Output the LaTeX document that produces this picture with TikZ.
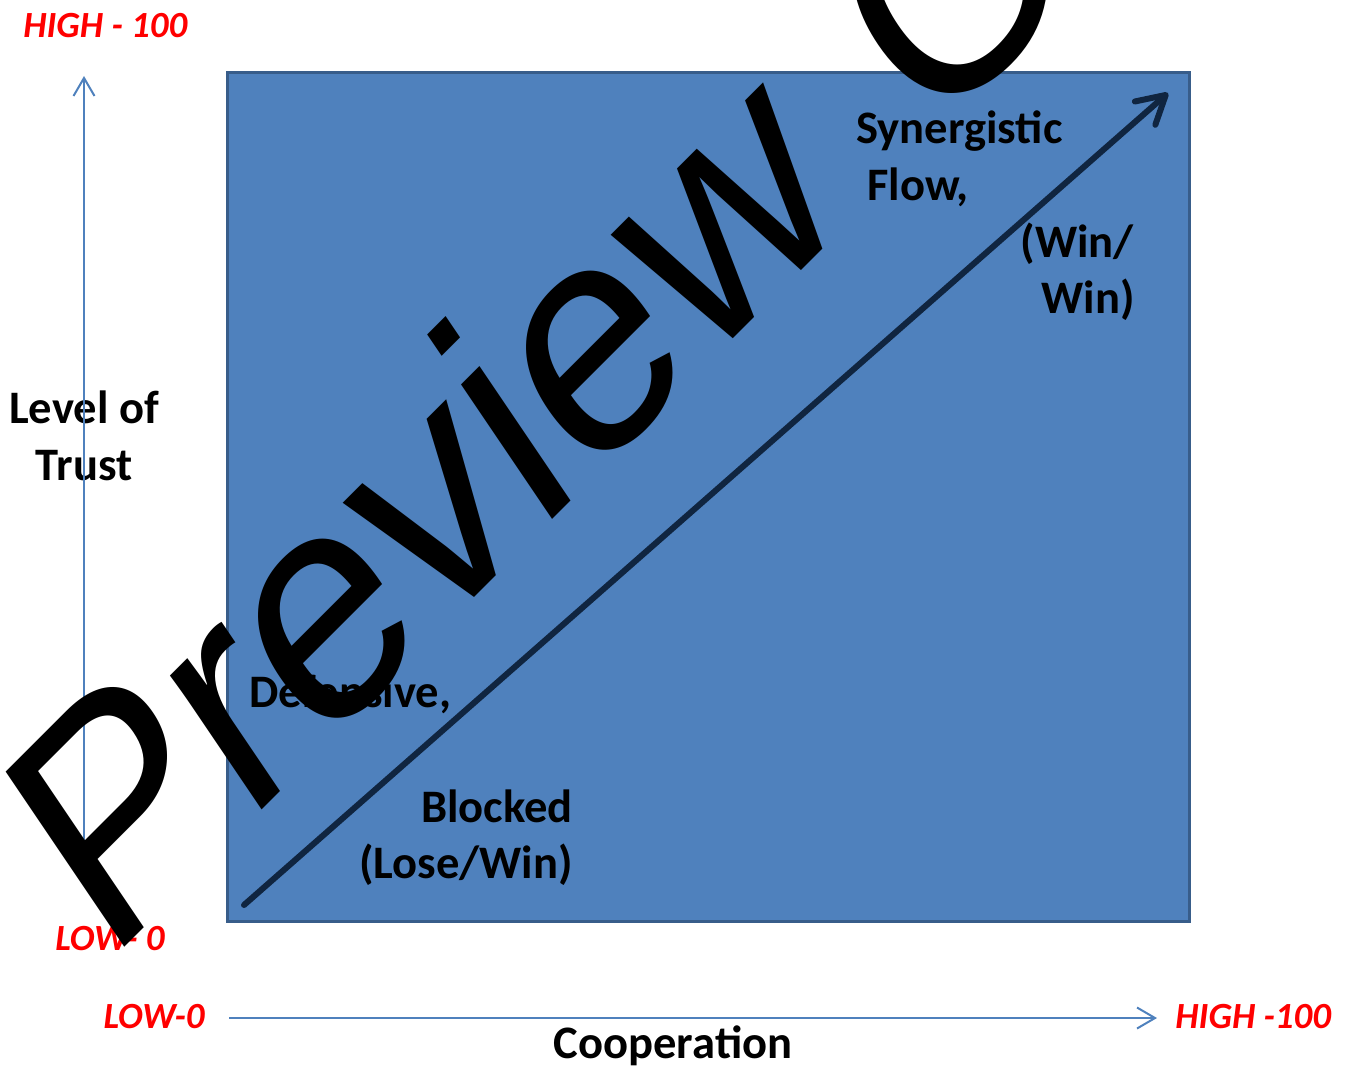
\documentclass[tikz,border=0pt]{standalone}
\usepackage{fontspec}
\setmainfont{Carlito}
\newfontfamily\wmfont{Liberation Sans}
\usetikzlibrary{arrows.meta}
\usetikzlibrary{positioning}
\definecolor{boxblue}{RGB}{79,129,189}
\definecolor{boxedge}{RGB}{56,93,138}
\definecolor{flowdark}{RGB}{16,37,64}

\begin{document}
\begin{tikzpicture}[x=0.02cm, y=-0.02cm,
quadtxt/.style={
  font=\fontsize{26.5}{32}\selectfont\bfseries,
  inner sep=0pt},
scaletxt/.style={
  font=\fontsize{21}{25}\selectfont\bfseries\itshape,
  text=red,
  inner sep=0pt},
axisline/.style={
  draw=boxblue,
  line width=0.04cm,
  -{Straight Barb[length=0.36cm,width=0.42cm]}},
flowarrow/.style={
  draw=flowdark,
  line width=0.12cm,
  line cap=round,
  -{Straight Barb[length=0.55cm,width=0.62cm,round]}}
]
\useasboundingbox (0,0) rectangle (1348,1068);
\clip (0,0) rectangle (1348,1068);

% the field
\draw[draw=boxedge, fill=boxblue, line width=0.06cm] (227,73) rectangle (1189,921);

% scale labels
\node[scaletxt, anchor=base west] (highy) at (23,38) {HIGH - 100};
\node[scaletxt, anchor=base east] (lowy) at (165,950) {LOW- 0};
\node[scaletxt, anchor=base east] (lowx) at (205,1028) {LOW-0};
\node[scaletxt, anchor=base west] (highx) at (1175,1028) {HIGH -100};

% axis names
\node[quadtxt, anchor=base] (level) at (84,423) {Level of};
\node[quadtxt, anchor=base] (trust) at (84,480) {Trust};
\node[quadtxt, anchor=base] (coop) at (673,1058) {Cooperation};

% quadrant texts
\node[quadtxt, anchor=base west] (syn) at (856,143) {Synergistic};
\node[quadtxt, anchor=base west] (flow) at (867,200) {Flow,};
\node[quadtxt, anchor=base east] (winwin) at (1134,257) {(Win/};
\node[quadtxt, anchor=base east] (win) at (1135,313) {Win)};
\node[quadtxt, anchor=base west] (def) at (249,707) {Defensive,};
\node[quadtxt, anchor=base east] (blocked) at (573,822) {Blocked};
\node[quadtxt, anchor=base east] (losewin) at (573,878) {(Lose/Win)};

% axes
\coordinate (y0) at (84,850);
\coordinate (y1) at (84,76);
\coordinate (x0) at (229,1018);
\coordinate (x1) at (1157,1018);
\draw[axisline] (y0) -- (y1);
\draw[axisline] (x0) -- (x1);

% trust / cooperation arrow
\coordinate (d0) at (244,905);
\coordinate (d1) at (1168,93);
\draw[flowarrow] (d0) -- (d1);

% watermark
\begin{scope}[shift={(107,965)}, cm={0.7071,0.7071,-0.5806,0.8576,(0,0)}]
\node[transform shape, anchor=base west, inner sep=0pt,
  font=\wmfont\fontsize{169}{169}\selectfont] (wm) at (0,0) {Preview\kern.08em{} O};
\end{scope}

\end{tikzpicture}
\end{document}
